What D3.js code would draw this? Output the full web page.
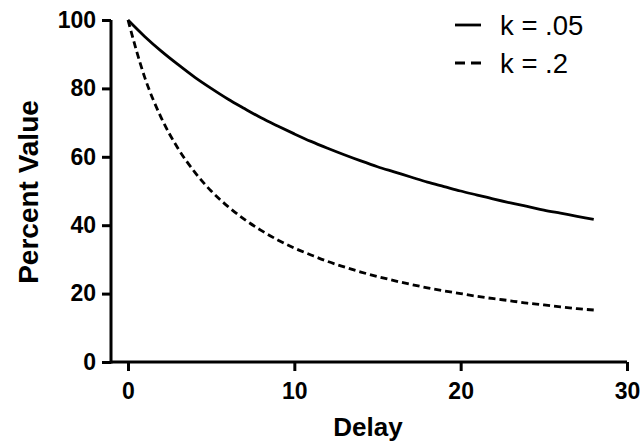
<!DOCTYPE html>
<html><head><meta charset="utf-8">
<script src="https://cdn.jsdelivr.net/npm/d3@7"></script>
<style>body{margin:0;background:#fff}svg{display:block}</style>
</head><body>
<svg id="c" width="642" height="443"></svg>
<script>
const delays = [0,1,2,3,4,5,6,7,8,9,10,11,12,13,14,15,16,17,18,19,20,21,22,23,24,25,26,27,28];
const k05 = [100,95.2,90.9,87.0,83.3,80.0,76.9,74.1,71.4,69.0,66.7,64.5,62.5,60.6,58.8,57.1,55.6,54.1,52.6,51.3,50.0,48.8,47.6,46.5,45.5,44.4,43.5,42.6,41.7];
const k2 = [100,83.3,71.4,62.5,55.6,50.0,45.5,41.7,38.5,35.7,33.3,31.3,29.4,27.8,26.3,25.0,23.8,22.7,21.7,20.8,20.0,19.2,18.5,17.9,17.2,16.7,16.1,15.6,15.2];
const seriesNames = ["k = .05", "k = .2"];
const xTicks = [0,10,20,30];
const yTicks = [0,20,40,60,80,100];

const svg = d3.select("#c");
const font = "Liberation Sans, Arial, sans-serif";
const x = d3.scaleLinear().domain([0,30]).range([128,627]);
const y = d3.scaleLinear().domain([0,100]).range([362,20]);

const yAxis = svg.append("g").attr("transform","translate(111,0)")
  .call(d3.axisLeft(y).tickValues(yTicks).tickSize(9).tickPadding(6).tickSizeOuter(0));
const xAxis = svg.append("g").attr("transform","translate(0,362)")
  .call(d3.axisBottom(x).tickValues(xTicks).tickSize(9).tickPadding(12).tickSizeOuter(0));
[yAxis,xAxis].forEach(g=>{
  g.attr("font-size",null).attr("font-family",null);
  g.selectAll("path,line").attr("stroke","#000").attr("stroke-width",3);
  g.selectAll("text").attr("fill","#000").attr("font-family",font).attr("font-size",23).attr("font-weight","bold");
});
xAxis.select(".domain").attr("d","M111,0H627");
yAxis.select(".domain").attr("d","M0,20V363.5");

const line = d3.line().x((d,i)=>x(delays[i])).y(d=>y(d)).curve(d3.curveMonotoneX);
svg.append("path").datum(k05).attr("d",line).attr("fill","none").attr("stroke","#000").attr("stroke-width",2.8);
svg.append("path").datum(k2).attr("d",line).attr("fill","none").attr("stroke","#000").attr("stroke-width",2.8).attr("stroke-dasharray","7,4");

const leg = svg.append("g");
[0,1].forEach(i=>{
  const yy = 25 + i*38;
  leg.append("line").attr("x1",455).attr("x2",481).attr("y1",yy).attr("y2",yy)
    .attr("stroke","#000").attr("stroke-width",2.8).attr("stroke-dasharray", i? "10,6":null);
  leg.append("text").attr("x",500).attr("y",yy+9.5).text(seriesNames[i])
    .attr("font-family",font).attr("font-size",27.5).attr("fill","#000");
});

svg.append("text").attr("x",368).attr("y",436).attr("text-anchor","middle").text("Delay")
  .attr("font-family",font).attr("font-size",26).attr("font-weight","bold");
svg.append("text").attr("transform","translate(38,192) rotate(-90)").attr("text-anchor","middle").text("Percent Value")
  .attr("font-family",font).attr("font-size",28).attr("font-weight","bold");
</script>
</body></html>
